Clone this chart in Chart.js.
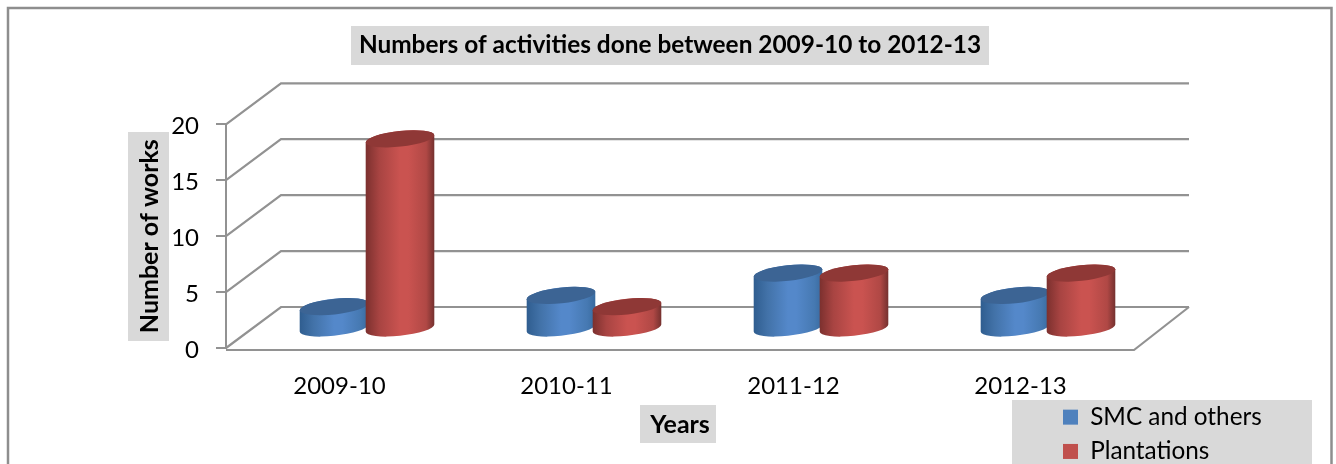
<!DOCTYPE html>
<html>
<head>
<meta charset="utf-8">
<style>
  html, body { margin: 0; padding: 0; background: #fff; }
  canvas { display: block; }
</style>
<script src="https://cdn.jsdelivr.net/npm/chart.js@4/dist/chart.umd.js"></script>
</head>
<body>
<canvas id="chart" width="1336" height="464"></canvas>
<script>
const categories = ['2009-10', '2010-11', '2011-12', '2012-13'];
const smcOthers = [2, 3, 5, 3];
const plantations = [17, 2, 5, 5];

const FONT = 'Lato';
const AXIS_COLOR = '#929292';
const DEPTH_X = 55, DEPTH_Y = -41;

// cylinder colours: side gradient from left to right, then the cap
const shades = [
  { side: ['#2f5d8f', '#4272a8', '#5488ca', '#5488ca', '#4679b2', '#386a9f'], cap: '#3c6494' },
  { side: ['#7b302e', '#a84442', '#ca5350', '#ca5350', '#b04845', '#73302e'], cap: '#8f3836' }
];
const sideStops = [0, 0.2, 0.5, 0.62, 0.88, 1];

function drawWalls(chart) {
  const { ctx, chartArea, scales } = chart;
  const { left, right, bottom } = chartArea;
  ctx.save();
  ctx.strokeStyle = AXIS_COLOR;
  ctx.lineWidth = 2.2;
  scales.y.ticks.forEach(t => {
    const y = scales.y.getPixelForValue(t.value);
    ctx.beginPath();
    ctx.moveTo(left, y);
    ctx.lineTo(left + DEPTH_X, y + DEPTH_Y);
    ctx.lineTo(right + DEPTH_X, y + DEPTH_Y);
    ctx.stroke();
  });
  // floor
  ctx.beginPath();
  ctx.moveTo(left, bottom + 2);
  ctx.lineTo(right, bottom + 2);
  ctx.lineTo(right + DEPTH_X, bottom + DEPTH_Y);
  ctx.stroke();
  ctx.restore();
}

function drawCylinder(ctx, bar, shade) {
  const a = 34.5, b = 7.8, rot = -0.11;
  const cx = bar.x + DEPTH_X / 2;
  const topY = bar.y + DEPTH_Y / 2 + 1.5;
  const baseY = bar.base + DEPTH_Y / 2 + 1.5;
  const t0 = Math.atan2(-b * Math.sin(rot), a * Math.cos(rot));

  const grad = ctx.createLinearGradient(cx - a, 0, cx + a, 0);
  shade.side.forEach((c, i) => grad.addColorStop(sideStops[i], c));

  ctx.beginPath();
  ctx.ellipse(cx, baseY, a, b, rot, t0, t0 + Math.PI);
  ctx.ellipse(cx, topY, a, b, rot, t0 + Math.PI, t0 + 2 * Math.PI);
  ctx.closePath();
  ctx.fillStyle = grad;
  ctx.fill();

  ctx.beginPath();
  ctx.ellipse(cx, topY, a, b, rot, 0, 2 * Math.PI);
  ctx.fillStyle = shade.cap;
  ctx.fill();
}

const chart3d = {
  id: 'chart3d',
  afterLayout(chart) {
    // legend sits in its own grey box under the plot
    const lg = chart.legend;
    lg.left = 1053; lg.right = 1312; lg.top = 395; lg.bottom = 520;
    lg.width = 259; lg.height = 125;
    chart.titleBlock.left += 36; chart.titleBlock.right += 36;
    // Lato sits a little high against the tick marks
    chart.scales.y.getLabelItems(chart.chartArea).forEach(item => {
      item.options.translation[1] += 2;
    });
  },
  beforeDraw(chart) {
    const { ctx } = chart;
    ctx.save();
    ctx.strokeStyle = '#8e8e8e';
    ctx.lineWidth = 2.5;
    ctx.strokeRect(8, 8, 1323.5, 500);
    ctx.fillStyle = '#d9d9d9';
    ctx.fillRect(351, 26, 638, 39);   // title
    ctx.fillRect(128, 132, 41, 209);  // y title
    ctx.fillRect(640, 405, 76, 38);   // x title
    ctx.fillRect(1012, 400, 300, 64); // legend
    ctx.restore();
  },
  beforeDatasetsDraw(chart) {
    drawWalls(chart);
    const n = categories.length;
    for (let i = 0; i < n; i++) {
      chart.data.datasets.forEach((ds, d) => {
        drawCylinder(chart.ctx, chart.getDatasetMeta(d).data[i], shades[d]);
      });
    }
    return false;
  }
};

new Chart(document.getElementById('chart'), {
  type: 'bar',
  plugins: [chart3d],
  data: {
    labels: categories,
    datasets: [
      { label: 'SMC and others', data: smcOthers, backgroundColor: '#4f81bd' },
      { label: 'Plantations', data: plantations, backgroundColor: '#c0504d' }
    ]
  },
  options: {
    responsive: false,
    animation: false,
    devicePixelRatio: 1,
    layout: { padding: { left: 134, right: 202, top: 0, bottom: 6 } },
    datasets: { bar: { categoryPercentage: 132 / 227, barPercentage: 1 } },
    scales: {
      x: {
        afterFit: s => { s.height = 110; },
        grid: { display: false },
        border: { display: false },
        ticks: { color: '#000', padding: 16, font: { family: FONT, size: 24 } },
        title: {
          display: true, text: 'Years', color: '#000',
          font: { family: FONT, size: 25, weight: 'bold' },
          padding: { top: 12, bottom: 18 }
        }
      },
      y: {
        min: 0, max: 20,
        afterFit: s => { s.width = 92; },
        grid: { drawOnChartArea: false, tickLength: 10, color: AXIS_COLOR, lineWidth: 2 },
        border: { display: true, color: AXIS_COLOR, width: 2 },
        ticks: { stepSize: 5, color: '#000', padding: 17, font: { family: FONT, size: 24 } },
        title: {
          display: true, text: 'Number of works', color: '#000',
          font: { family: FONT, size: 25, weight: 'bold' },
          padding: 1
        }
      }
    },
    plugins: {
      tooltip: { enabled: false },
      title: {
        display: true,
        text: 'Numbers of activities done between 2009-10 to 2012-13',
        color: '#000',
        font: { family: FONT, size: 24.4, weight: 'bold' },
        padding: { top: 31, bottom: 64 }
      },
      legend: {
        position: 'chartArea',
        align: 'start',
        labels: {
          boxWidth: 15, boxHeight: 15, padding: 10, color: '#000',
          font: { family: FONT, size: 24.3 }
        }
      }
    }
  }
});
</script>
</body>
</html>
